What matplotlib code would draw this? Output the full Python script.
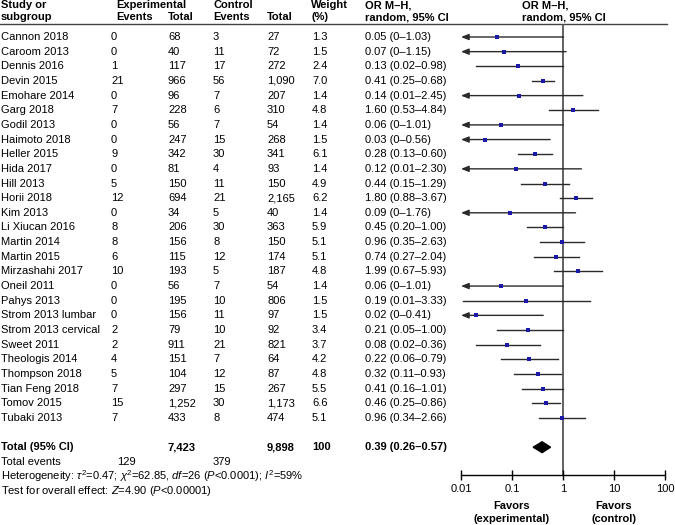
import numpy as np
import matplotlib
matplotlib.use("Agg")
import matplotlib.pyplot as plt
from matplotlib.ticker import FixedLocator, FixedFormatter, NullLocator

plt.rcParams['font.family'] = ['Liberation Sans', 'DejaVu Sans']
plt.rcParams['mathtext.fontset'] = 'custom'
plt.rcParams['mathtext.rm'] = 'Liberation Sans'
plt.rcParams['mathtext.it'] = 'Liberation Sans:italic'
plt.rcParams['mathtext.bf'] = 'Liberation Sans:bold'

# ------------------------------ data ------------------------------
studies = ["Cannon 2018", "Caroom 2013", "Dennis 2016", "Devin 2015", "Emohare 2014",
           "Garg 2018", "Godil 2013", "Haimoto 2018", "Heller 2015", "Hida 2017",
           "Hill 2013", "Horii 2018", "Kim 2013", "Li Xiucan 2016", "Martin 2014",
           "Martin 2015", "Mirzashahi 2017", "Oneil 2011", "Pahys 2013",
           "Strom 2013 lumbar", "Strom 2013 cervical", "Sweet 2011", "Theologis 2014",
           "Thompson 2018", "Tian Feng 2018", "Tomov 2015", "Tubaki 2013"]
exp_events = [0, 0, 1, 21, 0, 7, 0, 0, 9, 0, 5, 12, 0, 8, 8, 6, 10, 0, 0, 0, 2, 2, 4, 5, 7, 15, 7]
exp_total = [68, 40, 117, 966, 96, 228, 56, 247, 342, 81, 150, 694, 34, 206, 156, 115, 193,
             56, 195, 156, 79, 911, 151, 104, 297, 1252, 433]
ctl_events = [3, 11, 17, 56, 7, 6, 7, 15, 30, 4, 11, 21, 5, 30, 8, 12, 5, 7, 10, 11, 10, 21,
              7, 12, 15, 30, 8]
ctl_total = [27, 72, 272, 1090, 207, 310, 54, 268, 341, 93, 150, 2165, 40, 363, 150, 174, 187,
             54, 806, 97, 92, 821, 64, 87, 267, 1173, 474]
weight = [1.3, 1.5, 2.4, 7.0, 1.4, 4.8, 1.4, 1.5, 6.1, 1.4, 4.9, 6.2, 1.4, 5.9, 5.1, 5.1, 4.8,
          1.4, 1.5, 1.5, 3.4, 3.7, 4.2, 4.8, 5.5, 6.6, 5.1]
or_est = [0.05, 0.07, 0.13, 0.41, 0.14, 1.60, 0.06, 0.03, 0.28, 0.12, 0.44, 1.80, 0.09, 0.45,
          0.96, 0.74, 1.99, 0.06, 0.19, 0.02, 0.21, 0.08, 0.22, 0.32, 0.41, 0.46, 0.96]
ci_lo = [0.002, 0.004, 0.02, 0.25, 0.008, 0.53, 0.003, 0.002, 0.13, 0.006, 0.15, 0.88, 0.004,
         0.20, 0.35, 0.27, 0.67, 0.003, 0.011, 0.001, 0.05, 0.02, 0.06, 0.11, 0.16, 0.25, 0.34]
ci_hi = [1.03, 1.15, 0.98, 0.68, 2.45, 4.84, 1.01, 0.56, 0.60, 2.30, 1.29, 3.67, 1.76, 1.00,
         2.63, 2.04, 5.93, 1.01, 3.33, 0.41, 1.00, 0.36, 0.79, 0.93, 1.01, 0.86, 2.66]

total_exp, total_ctl = 7423, 9898
total_events_exp, total_events_ctl = 129, 379
pooled = (0.39, 0.26, 0.57)
x_ticks = [0.01, 0.1, 1, 10, 100]
x_ticklabels = ["0.01", "0.1", "1", "10", "100"]


def fmt_ci(v):
    if round(v, 2) == 0:
        return "0"
    return "%.2f" % v


# ------------------------------ layout ------------------------------
W, H = 675, 525
ROW0, STEP = 37.0, 14.65      # pixel y of first row, row spacing


def row(px):
    return (px - ROW0) / STEP


fig = plt.figure(figsize=(W / 100, H / 100), dpi=100)

# text axes covering whole figure: x in pixels, y in row units
tx = fig.add_axes([0, 0, 1, 1])
tx.set_xlim(0, W)
tx.set_ylim(row(H), row(0))
tx.axis('off')

fs = 8
cols = [1, 111, 168, 213, 267, 312, 365]

# headers
hdr = dict(fontsize=fs, fontweight='bold', va='center', ha='left')
tx.text(1, row(5), "Study or", **hdr)
tx.text(1, row(17), "subgroup", **hdr)
tx.text(116, row(5), "Experimental", **hdr)
tx.text(116, row(17), "Events", **hdr)
tx.text(168, row(17), "Total", **hdr)
tx.text(213, row(5), "Control", **hdr)
tx.text(213, row(17), "Events", **hdr)
tx.text(267, row(17), "Total", **hdr)
tx.text(311, row(5), "Weight", **hdr)
tx.text(311, row(17), "(%)", **hdr)
tx.text(365, row(5), "OR M\u2013H,", **hdr)
tx.text(365, row(17), "random, 95% CI", **hdr)
tx.text(522, row(5), "OR M\u2013H,", **hdr)
tx.text(522, row(17), "random, 95% CI", **hdr)
tx.plot([0, 667], [row(24), row(24)], color='#444444', lw=1.0)

# study rows
for i, name in enumerate(studies):
    vals = [name, str(exp_events[i]), "{:,}".format(exp_total[i]), str(ctl_events[i]),
            "{:,}".format(ctl_total[i]), "%.1f" % weight[i],
            "%.2f (%s\u2013%s)" % (or_est[i], fmt_ci(ci_lo[i]), fmt_ci(ci_hi[i]))]
    for x, v in zip(cols, vals):
        tx.text(x, i, v, fontsize=fs, va='center', ha='left')

n = len(studies)
y_tot = n + 1
bold = dict(fontsize=fs, fontweight='bold', va='center', ha='left')
tx.text(1, y_tot, "Total (95% CI)", **bold)
tx.text(168, y_tot, "{:,}".format(total_exp), **bold)
tx.text(267, y_tot, "{:,}".format(total_ctl), **bold)
tx.text(312, y_tot, "100", **bold)
tx.text(365, y_tot, "%.2f (%.2f\u2013%.2f)" % pooled, **bold)

tx.text(1, y_tot + 1, "Total events", fontsize=fs, va='center')
tx.text(117, y_tot + 1, str(total_events_exp), fontsize=fs, va='center')
tx.text(213, y_tot + 1, str(total_events_ctl), fontsize=fs, va='center')
tx.text(1, y_tot + 2, r"Heterogeneity: $\tau^2$=0.47; $\chi^2$=62.85, $df$=26 ($P$<0.0001); $I^2$=59%",
        fontsize=fs, va='center')
tx.text(1, y_tot + 3, r"Test for overall effect: $Z$=4.90 ($P$<0.00001)", fontsize=fs, va='center')

# ------------------------------ forest axes ------------------------------
px_left, px_right, px_top, px_bot = 461, 665, 24, 475
ax = fig.add_axes([px_left / W, (H - px_bot) / H, (px_right - px_left) / W, (px_bot - px_top) / H])
ax.set_xscale('log')
ax.set_xlim(0.01, 100)
ax.set_ylim(row(px_bot), row(px_top))
ax.patch.set_alpha(0)
for s in ['top', 'left', 'right']:
    ax.spines[s].set_visible(False)
ax.spines['bottom'].set_linewidth(1.0)
ax.yaxis.set_major_locator(NullLocator())
ax.xaxis.set_major_locator(FixedLocator(x_ticks))
ax.xaxis.set_major_formatter(FixedFormatter(x_ticklabels))
ax.xaxis.set_minor_locator(NullLocator())
ax.tick_params(axis='x', direction='inout', length=7, width=1.0, labelsize=fs, pad=3)

ax.axvline(1, color='#555555', lw=1.3, zorder=1)

line_c = '#2a2a2a'
for i in range(n):
    lo = ci_lo[i]
    if lo < 0.01:
        ax.annotate('', xy=(0.01, i), xytext=(ci_hi[i], i),
                    arrowprops=dict(arrowstyle='-|>,head_length=0.45,head_width=0.18',
                                    color=line_c, lw=1.0, shrinkA=0, shrinkB=0))
    else:
        ax.plot([lo, ci_hi[i]], [i, i], color=line_c, lw=1.0)
    ax.plot(or_est[i], i, marker='s', markersize=2.6, markeredgewidth=0,
            color='#1a1aa6', zorder=3)

est, lo, hi = pooled
h = 0.37
ax.fill([lo, est, hi, est], [y_tot, y_tot - h, y_tot, y_tot + h], color='black', zorder=3)

ax.text(0.1, row(506), "Favors", fontsize=fs, fontweight='bold', ha='center', va='center')
ax.text(0.1, row(519), "(experimental)", fontsize=fs, fontweight='bold', ha='center', va='center')
ax.text(10, row(506), "Favors", fontsize=fs, fontweight='bold', ha='center', va='center')
ax.text(10, row(519), "(control)", fontsize=fs, fontweight='bold', ha='center', va='center')

fig.savefig("out.png", dpi=100)
